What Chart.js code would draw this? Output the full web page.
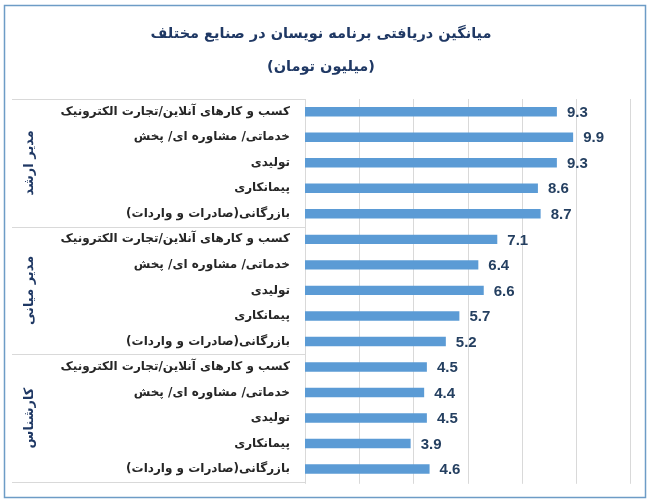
<!DOCTYPE html>
<html>
<head>
<meta charset="utf-8">
<script src="https://cdn.jsdelivr.net/npm/chart.js@4"></script>
<style>
    html, body { margin: 0; padding: 0; background: #ffffff; }
    #wrap { width: 653px; height: 504px; position: relative; }
</style>
</head>
<body>
<div id="wrap"><canvas id="salaryChart"></canvas></div>
<script>
// DATA
const titleLines = ["میانگین دریافتی برنامه نویسان در صنایع مختلف", "(میلیون تومان)"];
const groups = ["مدیر ارشد", "مدیر میانی", "کارشناس"];
const industries = [
    "کسب و کارهای آنلاین/تجارت الکترونیک",
    "خدماتی/ مشاوره ای/ پخش",
    "تولیدی",
    "پیمانکاری",
    "بازرگانی(صادرات و واردات)"
];
const seniorValues = [9.3, 9.9, 9.3, 8.6, 8.7];
const middleValues = [7.1, 6.4, 6.6, 5.7, 5.2];
const expertValues = [4.5, 4.4, 4.5, 3.9, 4.6];
const axisMax = 12;
const axisStep = 2;

const labels = [];
const values = [];
[seniorValues, middleValues, expertValues].forEach(arr => {
    industries.forEach((name, i) => {
        labels.push(name);
        values.push(arr[i]);
    });
});

const persianFont = "'DejaVu Sans', 'Noto Sans', sans-serif";
const numberFont = "'Liberation Sans', Arial, sans-serif";

//EXTRAS: frame, grid, group separators, group names, value labels
const extrasPlugin = {
    id: "extras",
    beforeDatasetsDraw(chart) {
        const ctx = chart.ctx;
        const area = chart.chartArea;
        const xScale = chart.scales.x;
        ctx.save();
        ctx.strokeStyle = "#d9d9d9";
        ctx.lineWidth = 1;
        xScale.ticks.forEach(t => {
            const x = Math.round(xScale.getPixelForValue(t.value)) + 0.5;
            ctx.beginPath();
            ctx.moveTo(x, area.top);
            ctx.lineTo(x, area.bottom + 2);
            ctx.stroke();
        });
        ctx.restore();
    },
    afterDraw(chart) {
        const ctx = chart.ctx;
        const area = chart.chartArea;
        const yScale = chart.scales.y;
        const xScale = chart.scales.x;
        const step = (area.bottom - area.top) / labels.length;
        const per = industries.length;

        ctx.save();
        // outer frame
        ctx.strokeStyle = "#6d9cc6";
        ctx.lineWidth = 1.5;
        ctx.strokeRect(4.5, 5.5, 641, 492);

        // separator lines
        ctx.strokeStyle = "#d9d9d9";
        ctx.lineWidth = 1;
        for (let g = 0; g <= groups.length; g++) {
            const y = Math.round(yScale.getPixelForValue(g * per) - step / 2) + 0.5;
            ctx.beginPath();
            ctx.moveTo(12, y);
            ctx.lineTo(area.left, y);
            ctx.stroke();
        }

        // group names, rotated
        ctx.fillStyle = "#1f3864";
        ctx.font = "bold 13px " + persianFont;
        ctx.textAlign = "center";
        ctx.textBaseline = "middle";
        groups.forEach((name, g) => {
            const yc = (yScale.getPixelForValue(g * per) + yScale.getPixelForValue(g * per + per - 1)) / 2;
            ctx.save();
            ctx.translate(30, yc);
            ctx.rotate(-Math.PI / 2);
            ctx.fillText(name, 0, 0);
            ctx.restore();
        });

        // value labels
        ctx.fillStyle = "#243f60";
        ctx.font = "bold 15px " + numberFont;
        ctx.textAlign = "left";
        const meta = chart.getDatasetMeta(0);
        meta.data.forEach((bar, i) => {
            ctx.fillText(values[i].toFixed(1), xScale.getPixelForValue(values[i]) + 10, bar.y + 1);
        });
        ctx.restore();
    }
};

let salaryChart = null;

function initChart() {
    const ctx = document.getElementById("salaryChart");
    salaryChart = new Chart(ctx, {
        type: "bar",
        data: {
            labels: labels,
            datasets: [{
                data: values,
                backgroundColor: "#5b9bd5",
                borderWidth: 0,
                categoryPercentage: 1,
                barPercentage: 0.37
            }]
        },
        options: {
            indexAxis: "y",
            responsive: true,
            maintainAspectRatio: false,
            animation: false,
            layout: { padding: { left: 12, right: 23, top: 0, bottom: 22 } },
            plugins: {
                legend: { display: false },
                tooltip: { enabled: false },
                title: {
                    display: true,
                    text: titleLines,
                    color: "#1f3864",
                    font: { family: persianFont, size: 14.5, weight: "bold", lineHeight: "33px" },
                    padding: { top: 18, bottom: 15 }
                }
            },
            scales: {
                x: {
                    min: 0,
                    max: axisMax,
                    ticks: { display: false, stepSize: axisStep },
                    grid: { display: false, drawTicks: false },
                    border: { display: false },
                    afterFit: (scale) => { scale.height = 0; }
                },
                y: {
                    grid: { display: false, drawTicks: false },
                    border: { display: true, color: "#d9d9d9" },
                    ticks: {
                        color: "#262626",
                        padding: 15,
                        font: { family: persianFont, size: 12, weight: "bold" }
                    },
                    afterFit: (scale) => { scale.width = 293; }
                }
            }
        },
        plugins: [extrasPlugin]
    });
}

window.onload = () => {
    initChart();
};
</script>
</body>
</html>
